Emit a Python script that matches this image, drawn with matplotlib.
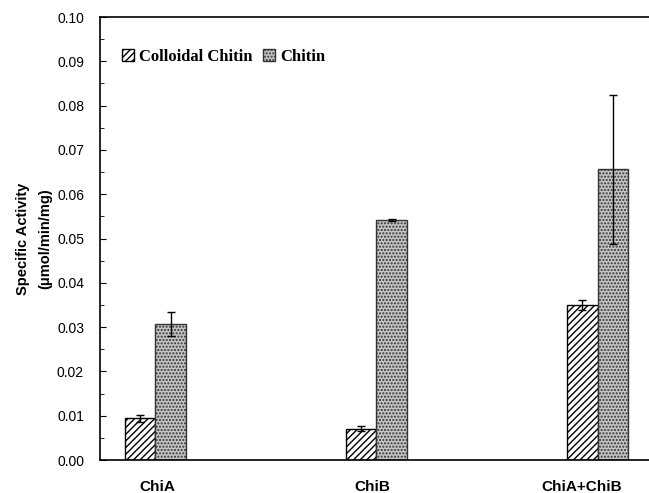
import matplotlib
matplotlib.use("Agg")
import matplotlib.pyplot as plt
import numpy as np
from matplotlib.patches import Patch

categories = ["ChiA", "ChiB", "ChiA+ChiB"]
colloidal = [0.0094, 0.0071, 0.0350]
colloidal_err = [0.0008, 0.0005, 0.0012]
chitin = [0.0307, 0.0542, 0.0656]
chitin_err = [0.0027, 0.0002, 0.0169]
series_names = ["Colloidal Chitin", "Chitin"]
yticks = [0.00, 0.01, 0.02, 0.03, 0.04, 0.05, 0.06, 0.07, 0.08, 0.09, 0.10]

plt.rcParams['hatch.linewidth'] = 1.0
plt.rcParams['hatch.color'] = 'black'
fig = plt.figure(figsize=(6.49, 4.93), dpi=100)
ax = fig.add_axes([100/649, 1-460/493, 1-100/649, (460-17)/493])

x = np.arange(len(categories))
w = 0.14
b1 = ax.bar(x - w/2, colloidal, w, facecolor='white', edgecolor='black',
            hatch='/////', linewidth=1.0)
b2 = ax.bar(x + w/2, chitin, w, facecolor='#c4c4c4', edgecolor='#333333',
            hatch='.....', linewidth=1.0)
ax.errorbar(x - w/2, colloidal, yerr=colloidal_err, fmt='none', ecolor='black',
            elinewidth=1.0, capsize=3, capthick=1.0)
ax.errorbar(x + w/2, chitin, yerr=chitin_err, fmt='none', ecolor='black',
            elinewidth=1.0, capsize=3, capthick=1.0)

ax.set_ylim(0, 0.10)
ax.set_xlim(-0.251, 2.233)
ax.set_yticks(yticks)
ax.set_yticklabels([f"{v:.2f}" for v in yticks], family='Liberation Sans', fontsize=10)
ax.set_yticks(np.arange(0.005, 0.1, 0.01), minor=True)
ax.tick_params(axis='y', which='major', direction='in', length=4, width=0.8, pad=11.5)
ax.tick_params(axis='y', which='minor', direction='in', length=3, width=0.6)

label_pos = [0.007, 0.98, 1.93]
ax.set_xticks(label_pos)
ax.set_xticklabels(categories, family='Liberation Sans', fontweight='bold', fontsize=11)
ax.tick_params(axis='x', length=0, pad=14.5)

ax.spines['right'].set_visible(False)
for s in ['left', 'bottom', 'top']:
    ax.spines[s].set_linewidth(1.2)

ax.set_ylabel("Specific Activity\n(\u03bcmol/min/mg)", family='Liberation Sans',
              fontweight='bold', fontsize=10.5, labelpad=3, linespacing=1.75)

handles = [Patch(facecolor='white', edgecolor='black', hatch='/////'),
           Patch(facecolor='#c4c4c4', edgecolor='#333333', hatch='.....')]
ax.legend(handles, series_names, loc='upper left', bbox_to_anchor=(0.012, 0.962),
          ncol=2, frameon=False, handlelength=0.75, handleheight=0.75,
          handletextpad=0.3, columnspacing=0.6,
          prop={'family': 'Liberation Serif', 'weight': 'bold', 'size': 12})

fig.savefig("out.png", dpi=100)
